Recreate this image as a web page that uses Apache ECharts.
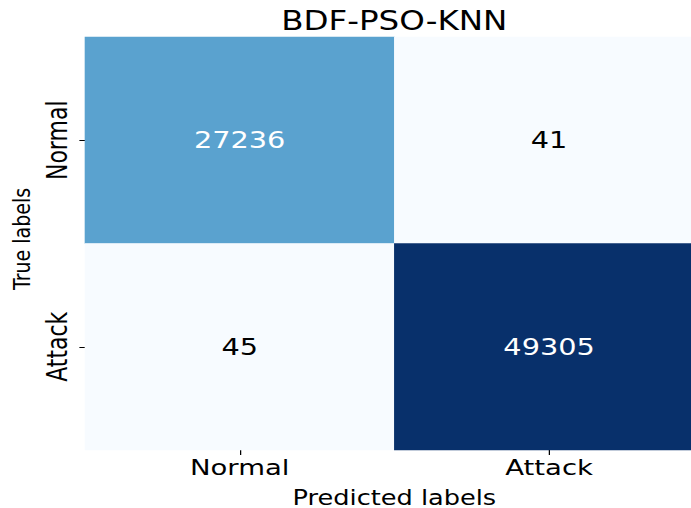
<!DOCTYPE html>
<html>
<head>
<meta charset="utf-8">
<script src="https://cdn.jsdelivr.net/npm/echarts@6/dist/echarts.min.js"></script>
<style>
  html, body { margin: 0; padding: 0; background: #ffffff; overflow: hidden; width: 691px; height: 508px; }
  /* the figure is drawn narrower and widened horizontally, giving its stretched lettering */
  #chart { width: 563px; height: 508px; transform: scaleX(1.25); transform-origin: 0 0; }
</style>
</head>
<body>
<div id="chart"></div>
<script>
// Confusion matrix of the BDF-PSO-KNN classifier
const titleText = 'BDF-PSO-KNN';
const classNames = ['Normal', 'Attack'];
const trueNormalRow = [27236, 41];   // true Normal: predicted Normal, predicted Attack
const trueAttackRow = [45, 49305];   // true Attack: predicted Normal, predicted Attack
const matrixRows = [trueNormalRow, trueAttackRow];

// matplotlib "Blues" colour map stops
const bluesStops = ['#f7fbff', '#deebf7', '#c6dbef', '#9ecae1', '#6baed6',
                    '#4292c6', '#2171b5', '#08519c', '#08306b'];

const allValues = matrixRows.flat();
const vMin = Math.min(...allValues);
const vMax = Math.max(...allValues);

const cells = [];
matrixRows.forEach((row, r) => {
  row.forEach((v, c) => {
    const dark = (v - vMin) / (vMax - vMin) > 0.4;
    cells.push({ value: [c, r, v], label: { color: dark ? '#ffffff' : '#000000' } });
  });
});

const FONT = 'DejaVu Sans';
const chart = echarts.init(document.getElementById('chart'), null, { renderer: 'svg' });
chart.setOption({
  animation: false,
  backgroundColor: '#ffffff',
  title: {
    text: titleText,
    left: 220,
    top: 3,
    textStyle: { fontFamily: FONT, fontSize: 26, fontWeight: 'normal', color: '#000000' }
  },
  grid: { left: 68, right: 0, top: 37, bottom: 58, outerBoundsMode: 'none', containLabel: false },
  xAxis: {
    type: 'category',
    data: classNames,
    name: 'Predicted labels',
    nameLocation: 'middle',
    nameGap: 37,
    nameTextStyle: { fontFamily: FONT, fontSize: 20.5, color: '#000000' },
    axisLine: { show: false },
    axisTick: { show: true, alignWithLabel: true, length: 5, lineStyle: { color: '#000000', width: 1 } },
    axisLabel: { fontFamily: FONT, fontSize: 22, color: '#000000', margin: 6 },
    splitLine: { show: false }
  },
  yAxis: {
    type: 'category',
    data: classNames,
    inverse: true,
    name: 'True labels',
    nameLocation: 'middle',
    nameGap: 37,
    nameTextStyle: { fontFamily: FONT, fontSize: 19, color: '#000000', padding: [0, 0, 0, 9] },
    axisLine: { show: false },
    axisTick: { show: true, alignWithLabel: true, length: 4.5, lineStyle: { color: '#000000', width: 1 } },
    axisLabel: { fontFamily: FONT, fontSize: 22, color: '#000000', rotate: 90, margin: 11 },
    splitLine: { show: false }
  },
  visualMap: {
    show: false,
    type: 'continuous',
    min: vMin,
    max: vMax,
    dimension: 2,
    inRange: { color: bluesStops }
  },
  series: [{
    type: 'heatmap',
    data: cells,
    label: { show: true, fontFamily: FONT, fontSize: 23 },
    itemStyle: { borderWidth: 0 },
    emphasis: { disabled: true }
  }]
});
</script>
</body>
</html>
